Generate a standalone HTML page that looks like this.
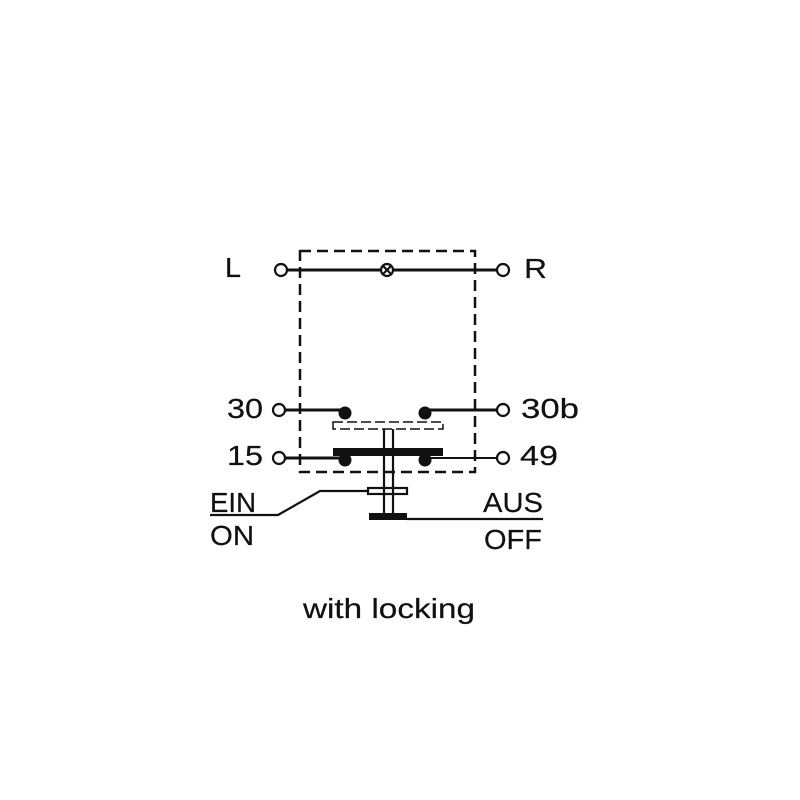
<!DOCTYPE html>
<html><head><style>body{margin:0;background:#fff}svg{display:block}</style></head>
<body>
<svg width="800" height="800" viewBox="0 0 800 800" xmlns="http://www.w3.org/2000/svg" font-family="Liberation Sans, Arial, sans-serif" font-size="28" fill="#111">
<rect x="300" y="251" width="175" height="221" fill="none" stroke="#111" stroke-width="2.5" stroke-dasharray="11,6"/>
<g stroke="#111" stroke-width="3" fill="none">
<line x1="287" y1="270" x2="381" y2="270"/>
<line x1="393" y1="270" x2="497" y2="270"/>
<line x1="286" y1="410" x2="345" y2="410"/>
<line x1="425" y1="410" x2="497" y2="410"/>
<line x1="286" y1="458" x2="343" y2="458"/>
</g>
<line x1="425" y1="458" x2="497" y2="458" stroke="#111" stroke-width="2"/>
<g stroke="#111" stroke-width="2.2" fill="#fff">
<circle cx="281" cy="270" r="6"/><circle cx="503" cy="270" r="6"/>
<circle cx="279" cy="410" r="6"/><circle cx="503" cy="410" r="6"/>
<circle cx="279" cy="458" r="6"/><circle cx="503" cy="458" r="6"/>
<circle cx="387" cy="270" r="6"/>
<line x1="383" y1="266" x2="391" y2="274"/><line x1="391" y1="266" x2="383" y2="274"/>
</g>
<g fill="#111">
<circle cx="345" cy="413" r="6.5"/><circle cx="425" cy="413" r="6.5"/>
<circle cx="345" cy="460" r="6.5"/><circle cx="425" cy="460" r="6.5"/>
<rect x="333" y="448" width="110" height="8"/>
<rect x="369" y="513" width="38" height="7"/>
</g>
<rect x="333" y="422" width="110" height="7" fill="#fff" stroke="#111" stroke-width="1.5" stroke-dasharray="10,4"/>
<g stroke="#111" stroke-width="2.2" fill="none">
<line x1="384" y1="429" x2="384" y2="513"/>
<line x1="393" y1="429" x2="393" y2="513"/>
<rect x="368" y="488" width="39" height="6" fill="#fff"/>
<line x1="384" y1="486" x2="384" y2="496"/><line x1="393" y1="486" x2="393" y2="496"/>
<polyline points="368,491 320,491 278,515 210,515"/>
<line x1="407" y1="519" x2="543" y2="519"/>
</g>
<g stroke="#111" stroke-width="0.2">
<text x="225" y="277" textLength="16" lengthAdjust="spacingAndGlyphs">L</text>
<text x="524" y="278" textLength="23" lengthAdjust="spacingAndGlyphs">R</text>
<text x="227" y="418" textLength="36" lengthAdjust="spacingAndGlyphs">30</text>
<text x="521" y="418" textLength="58" lengthAdjust="spacingAndGlyphs">30b</text>
<text x="227" y="465" textLength="36" lengthAdjust="spacingAndGlyphs">15</text>
<text x="520" y="465" textLength="38" lengthAdjust="spacingAndGlyphs">49</text>
<text x="210" y="512" textLength="46" lengthAdjust="spacingAndGlyphs">EIN</text>
<text x="210" y="545" textLength="44" lengthAdjust="spacingAndGlyphs">ON</text>
<text x="483" y="512" textLength="60" lengthAdjust="spacingAndGlyphs">AUS</text>
<text x="484" y="549" textLength="58" lengthAdjust="spacingAndGlyphs">OFF</text>
<text x="303" y="618" textLength="172" lengthAdjust="spacingAndGlyphs">with locking</text>
</g>
</svg>
</body></html>
